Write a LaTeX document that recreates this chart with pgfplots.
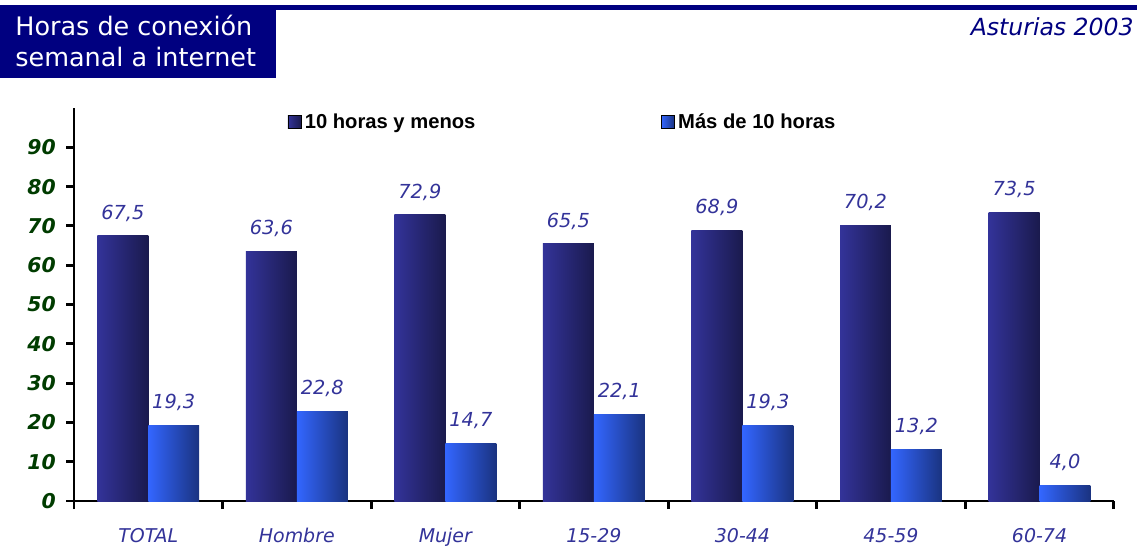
\documentclass[border=0pt]{standalone}
\usepackage{pgfplots}
\pgfplotsset{compat=1.18}
\usepackage{fontspec}
\setmainfont{DejaVu Sans}
\newfontfamily\legfont{Liberation Sans}

\definecolor{navy}{RGB}{0,0,128}
\definecolor{ygreen}{RGB}{0,60,0}
\definecolor{lblue}{RGB}{51,51,153}
\definecolor{dkA}{RGB}{51,51,153}
\definecolor{dkB}{RGB}{26,26,77}
\definecolor{ltA}{RGB}{51,102,255}
\definecolor{ltB}{RGB}{26,51,128}

% pixel -> picture coordinates (axis origin at pixel 74,501)
\newcommand\px[2]{({(#1-74)*0.02cm},{(501-#2)*0.02cm})}

\begin{document}
\begin{tikzpicture}
\path[use as bounding box] \px{0}{0} rectangle \px{1137}{558};

% cabecera
\fill[navy] \px{0}{5} rectangle \px{1137}{10};
\fill[navy] \px{0}{10} rectangle \px{276}{78};
\node[anchor=base west, white, inner sep=0pt, font=\fontsize{14.5}{16}\selectfont] at \px{15}{36} {Horas de conexión};
\node[anchor=base west, white, inner sep=0pt, font=\fontsize{14.5}{16}\selectfont] at \px{15}{67} {semanal a internet};
\node[anchor=base east, navy, inner sep=0pt, font=\itshape\fontsize{13.4}{15}\selectfont] at \px{1134}{36} {Asturias 2003};

\begin{axis}[
  at={(0,0)}, anchor=south west,
  scale only axis,
  width=20.8cm, height=7.86cm,
  xmin=-0.5, xmax=6.5,
  ymin=0, ymax=100,
  ytick={0,10,...,90},
  xtick={0,...,6},
  xticklabels={TOTAL,Hombre,Mujer,15-29,30-44,45-59,60-74},
  minor xtick={-0.5,0.5,...,6.5},
  major x tick style={draw=none},
  axis x line*=bottom, axis y line*=left,
  axis line style={-, line width=1.7pt, black},
  tick style={line width=1.7pt, black},
  tick align=outside,
  major tick length=0.16cm, minor tick length=0.16cm,
  /pgf/number format/assume math mode=true,
  yticklabel style={font=\bfseries\itshape\fontsize{11.6}{13}\selectfont, color=ygreen, xshift=-0.08cm},
  xticklabel style={font=\itshape\fontsize{10.8}{12}\selectfont, color=lblue, yshift=-0.26cm},
  ybar, bar width=0.343,
  nodes near coords={\pgfmathprintnumber[fixed,fixed zerofill,precision=1,use comma,assume math mode=true]{\pgfplotspointmeta}},
  every node near coord/.append style={anchor=center, yshift=0.45cm, color=lblue, font=\itshape\fontsize{11}{12}\selectfont},
  clip=false,
  dk/.style={draw=none, left color=dkA, right color=dkB, bar shift=-0.1715, forget plot},
  lt/.style={draw=none, left color=ltA, right color=ltB, bar shift=0.1715, forget plot},
  legend columns=2,
  legend style={at={(0.2,0.964)}, anchor=west, draw=none, fill=none,
    font=\legfont\bfseries\fontsize{11.5}{13}\selectfont,
    /tikz/every even column/.append style={column sep=3.64cm}},
]
% 10 horas y menos (una barra por plot para que el degradado sea por barra)
\addplot[dk] coordinates {(0,67.5)};
\addplot[dk] coordinates {(1,63.6)};
\addplot[dk] coordinates {(2,72.9)};
\addplot[dk] coordinates {(3,65.5)};
\addplot[dk] coordinates {(4,68.9)};
\addplot[dk] coordinates {(5,70.2)};
\addplot[dk] coordinates {(6,73.5)};
% Más de 10 horas
\addplot[lt] coordinates {(0,19.3)};
\addplot[lt] coordinates {(1,22.8)};
\addplot[lt] coordinates {(2,14.7)};
\addplot[lt] coordinates {(3,22.1)};
\addplot[lt] coordinates {(4,19.3)};
\addplot[lt] coordinates {(5,13.2)};
\addplot[lt] coordinates {(6,4.0)};

\addlegendimage{legend image code/.code={\fill[left color=dkA, right color=dkB] (0cm,-0.13cm) rectangle (0.26cm,0.13cm);}}
\addlegendentry{10 horas y menos}
\addlegendimage{legend image code/.code={\fill[left color=ltA, right color=ltB] (0cm,-0.13cm) rectangle (0.26cm,0.13cm);}}
\addlegendentry{Más de 10 horas}
\end{axis}
\end{tikzpicture}
\end{document}
